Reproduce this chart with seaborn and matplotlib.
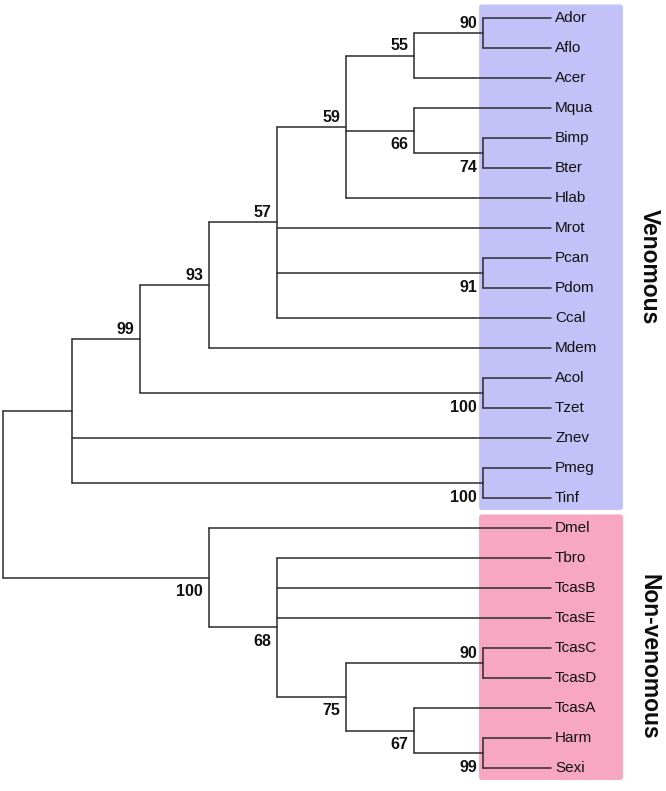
import pandas as pd
import numpy as np
import matplotlib.pyplot as plt
import seaborn as sns
from matplotlib.patches import FancyBboxPatch

# tree topology with bootstrap support on internal nodes
newick = ("((((((((Ador,Aflo)90,Acer)55,(Mqua,(Bimp,Bter)74)66,Hlab)59,Mrot,(Pcan,Pdom)91,Ccal)57,"
          "Mdem)93,(Acol,Tzet)100)99,Znev,(Pmeg,Tinf)100),"
          "(Dmel,(Tbro,TcasB,TcasE,((TcasC,TcasD)90,(TcasA,(Harm,Sexi)99)67)75)68)100);")

groups = ["Venomous", "Non-venomous"]
group_first = ["Ador", "Dmel"]
group_last = ["Tinf", "Sexi"]
group_colors = ["#c2c2f9", "#f7a7c1"]


def parse(s):
    pos = 0

    def read():
        nonlocal pos
        start = pos
        while pos < len(s) and s[pos] not in ",();":
            pos += 1
        return s[start:pos]

    def node():
        nonlocal pos
        if s[pos] == "(":
            pos += 1
            kids = [node()]
            while s[pos] == ",":
                pos += 1
                kids.append(node())
            pos += 1
            return {"kids": kids, "label": read()}
        return {"kids": [], "label": read()}

    return node()


root = parse(newick)
leaves = []


def height(n):
    n["h"] = 0 if not n["kids"] else 1 + max(height(k) for k in n["kids"])
    return n["h"]


def place(n):
    if not n["kids"]:
        n["y"] = len(leaves)
        leaves.append(n["label"])
    else:
        for k in n["kids"]:
            place(k)
        n["y"] = (n["kids"][0]["y"] + n["kids"][-1]["y"]) / 2


H = height(root)
place(root)

segs = []
supports = []


def walk(n):
    x = H - n["h"]
    n["x"] = x
    if not n["kids"]:
        return
    segs.append((x, n["kids"][0]["y"], x, n["kids"][-1]["y"]))
    for i, k in enumerate(n["kids"]):
        walk(k)
        segs.append((x, k["y"], k["x"], k["y"]))
        if k["kids"] and k["label"]:
            supports.append((k["x"], k["y"], k["label"], i == 0))


walk(root)

rows = []
for i, (x0, y0, x1, y1) in enumerate(segs):
    rows.append({"seg": i, "x": x0, "y": y0})
    rows.append({"seg": i, "x": x1, "y": y1})
df = pd.DataFrame(rows)

sns.set_theme(style="white")
plt.rcParams["font.family"] = ["Liberation Sans", "DejaVu Sans"]

fig = plt.figure(figsize=(6.66, 7.91), dpi=100)
ax = fig.add_axes([0, 0, 1, 1])

# group boxes
for g, first, last, col in zip(groups, group_first, group_last, group_colors):
    y0 = leaves.index(first) - 0.45
    y1 = leaves.index(last) + 0.4
    box = FancyBboxPatch((H - 1.05, y0), 2.1, y1 - y0,
                         boxstyle="round,pad=0,rounding_size=0.04",
                         mutation_aspect=2.28, facecolor=col, edgecolor="none", zorder=1)
    ax.add_patch(box)
    ax.text(H + 1.43, (leaves.index(first) + leaves.index(last)) / 2 + 0.3, g,
            rotation=270, ha="center", va="center", fontsize=16.5, fontweight="bold",
            color="#0d0d0d")

sns.lineplot(data=df, x="x", y="y", units="seg", estimator=None, sort=False,
             color="#2b2b2b", linewidth=1.1, ax=ax, legend=False, zorder=3)

for i, name in enumerate(leaves):
    ax.text(H + 0.06, i, name, ha="left", va="center", fontsize=11, color="#111111")

for x, y, lab, above in supports:
    if above:
        ax.text(x - 0.08, y - 0.17, lab, ha="right", va="baseline",
                fontsize=11.5, fontweight="bold", color="#111111")
    else:
        ax.text(x - 0.08, y + 0.22, lab, ha="right", va="top",
                fontsize=11.5, fontweight="bold", color="#111111")

ax.set_xlim(-3 / 68.5, 663 / 68.5)
ax.set_ylim(773 / 30, -0.6)
ax.axis("off")
fig.savefig("out.png", dpi=100)
